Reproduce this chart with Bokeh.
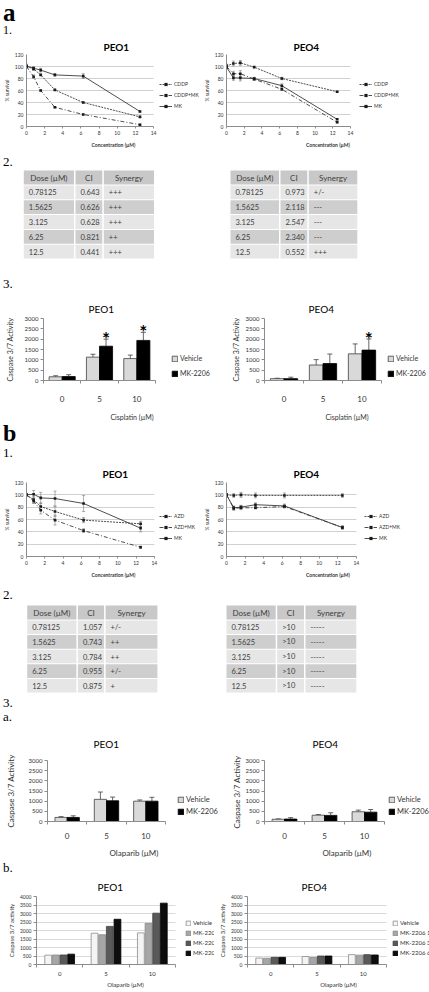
from bokeh.plotting import figure
from bokeh.models import (Range1d, FixedTicker, Legend, LegendItem, Whisker, TeeHead,
                          ColumnDataSource, Div, BoxAnnotation)
from bokeh.layouts import column, row
from bokeh.embed import file_html
from bokeh.resources import INLINE
from bokeh.core.properties import value

SANS = "Lato"
SERIF = "Liberation Serif"

# ------------------------------------------------------------------ data
conc = [0, 0.78125, 1.5625, 3.125, 6.25, 12.5]
conc_ticks = [0, 2, 4, 6, 8, 10, 12, 14]
surv_ticks = [0, 20, 40, 60, 80, 100, 120]

a1_names = ["CDDP", "CDDP+MK", "MK"]
a1_peo1_cddp = [100, 96, 86, 61, 40, 16]
a1_peo1_cddp_mk = [100, 83, 60, 32, 20, 3]
a1_peo1_mk = [101, 97, 94, 86, 84, 25]
a1_peo1_cddp_err = [2, 2, 1, 1, 1, 1]
a1_peo1_cddp_mk_err = [2, 3, 1, 1, 1, 1]
a1_peo1_mk_err = [3, 3, 3, 2, 4, 1]
a1_peo4_cddp = [101, 105, 106, 99, 80, 58]
a1_peo4_cddp_mk = [100, 88, 88, 79, 62, 7]
a1_peo4_mk = [99, 81, 81, 80, 68, 12]
a1_peo4_cddp_err = [3, 4, 4, 1, 2, 1]
a1_peo4_cddp_mk_err = [3, 4, 5, 2, 2, 1]
a1_peo4_mk_err = [3, 4, 5, 2, 3, 1]

b1_names = ["AZD", "AZD+MK", "MK"]
b1_peo1_azd = [100, 92, 81, 73, 59, 53]
b1_peo1_azd_mk = [100, 90, 75, 59, 42, 15]
b1_peo1_mk = [100, 101, 95, 94, 86, 46]
b1_peo1_azd_err = [1, 5, 6, 8, 4, 4]
b1_peo1_azd_mk_err = [1, 4, 6, 8, 3, 2]
b1_peo1_mk_err = [1, 6, 9, 12, 13, 6]
b1_peo4_azd = [100, 99, 100, 99, 99, 99]
b1_peo4_azd_mk = [100, 78, 79, 79, 81, 47]
b1_peo4_mk = [100, 79, 80, 84, 82, 47]
b1_peo4_azd_err = [1, 3, 4, 4, 4, 3]
b1_peo4_azd_mk_err = [1, 3, 3, 2, 2, 2]
b1_peo4_mk_err = [1, 3, 3, 3, 3, 3]

table_head = ["Dose (µM)", "CI", "Synergy"]
table_doses = ["0.78125", "1.5625", "3.125", "6.25", "12.5"]
a2_peo1_ci = ["0.643", "0.626", "0.628", "0.821", "0.441"]
a2_peo1_syn = ["+++", "+++", "+++", "++", "+++"]
a2_peo4_ci = ["0.973", "2.118", "2.547", "2.340", "0.552"]
a2_peo4_syn = ["+/-", "---", "---", "---", "+++"]
b2_peo1_ci = ["1.057", "0.743", "0.784", "0.955", "0.875"]
b2_peo1_syn = ["+/-", "++", "++", "+/-", "+"]
b2_peo4_ci = [">10", ">10", ">10", ">10", ">10"]
b2_peo4_syn = ["-----", "-----", "-----", "-----", "-----"]

casp_doses = ["0", "5", "10"]
casp_ticks_3000 = [0, 500, 1000, 1500, 2000, 2500, 3000]
casp_ticks_4000 = [0, 500, 1000, 1500, 2000, 2500, 3000, 3500, 4000]
casp2_names = ["Vehicle", "MK-2206"]

a3_peo1_veh = [180, 1130, 1060]
a3_peo1_veh_err = [50, 140, 170]
a3_peo1_mk = [190, 1660, 1940]
a3_peo1_mk_err = [90, 340, 390]
a3_peo1_star = [False, True, True]
a3_peo4_veh = [90, 750, 1290]
a3_peo4_veh_err = [20, 260, 480]
a3_peo4_mk = [90, 820, 1470]
a3_peo4_mk_err = [70, 460, 540]
a3_peo4_star = [False, False, True]

b3a_peo1_veh = [200, 1090, 1000]
b3a_peo1_veh_err = [40, 360, 60]
b3a_peo1_mk = [200, 1020, 1000]
b3a_peo1_mk_err = [80, 180, 190]
b3a_peo4_veh = [110, 310, 480]
b3a_peo4_veh_err = [20, 30, 80]
b3a_peo4_mk = [120, 300, 460]
b3a_peo4_mk_err = [70, 130, 130]
no_star = [False, False, False]

b3b_names = ["Vehicle", "MK-2206 1", "MK-2206 3", "MK-2206 6"]
b3b_peo1_veh = [550, 1840, 1860]
b3b_peo1_mk1 = [560, 1750, 2420]
b3b_peo1_mk3 = [560, 2240, 3020]
b3b_peo1_mk6 = [610, 2660, 3610]
b3b_peo4_veh = [380, 470, 580]
b3b_peo4_mk1 = [370, 420, 550]
b3b_peo4_mk3 = [420, 500, 580]
b3b_peo4_mk6 = [420, 500, 560]

AXIS = "#8c8c8c"
TXT = "#333333"


# ------------------------------------------------------------------ helpers
def base_fig(W, H, L, T, B, xr, yr):
    # the frame runs to the right edge; the legend sits in the frame's blank right part
    p = figure(width=W, height=H, x_range=xr, y_range=yr, output_backend="svg",
               toolbar_location=None, min_border_left=L, min_border_right=0,
               min_border_top=T, min_border_bottom=B)
    p.outline_line_color = None
    p.background_fill_color = "white"
    p.border_fill_color = "white"
    p.axis.minor_tick_line_color = None
    p.axis.axis_line_color = AXIS
    p.axis.major_tick_line_color = AXIS
    p.axis.major_label_text_font = SANS
    p.axis.axis_label_text_font = SANS
    p.axis.major_label_text_color = TXT
    p.axis.axis_label_text_color = TXT
    p.axis.axis_label_text_font_style = "normal"
    p.title.text_font = SANS
    p.title.text_color = "black"
    p.title.align = "left"
    return p


def line_chart(title, names, vals, errs, W, H, L, T, B, plot_w, title_off, title_so, leg_xy):
    xmax = conc_ticks[-1] * (W - L) / plot_w
    p = base_fig(W, H, L, T, B, Range1d(0, xmax), Range1d(0, surv_ticks[-1]))
    p.title.text = title
    p.title.text_font_size = "10px"
    p.title.text_font_style = "bold"
    p.title.offset = title_off
    p.title.standoff = title_so
    p.xaxis.ticker = FixedTicker(ticks=conc_ticks)
    p.xaxis.bounds = (conc_ticks[0], conc_ticks[-1])
    p.yaxis.ticker = FixedTicker(ticks=surv_ticks)
    p.axis.major_label_text_font_size = "5px"
    p.yaxis.major_tick_line_color = None
    p.yaxis.major_tick_out = 0
    p.yaxis.major_label_standoff = 3
    p.xaxis.major_tick_out = 2
    p.xaxis.major_tick_in = 0
    p.xaxis.major_label_standoff = 2
    p.xgrid.visible = False
    p.ygrid.grid_line_color = "#c4c4c4"
    p.ygrid.grid_line_width = 0.8
    p.add_layout(BoxAnnotation(left=conc_ticks[-1], fill_color="white", fill_alpha=1,
                               line_alpha=0, level="underlay"))
    p.yaxis.axis_label = "% survival"
    p.yaxis.axis_label_text_font_size = "5px"
    p.yaxis.axis_label_standoff = 2
    p.xaxis.axis_label = "Concentration (µM)"
    p.xaxis.axis_label_text_font_size = "5px"
    p.xaxis.axis_label_text_font_style = "bold"
    p.xaxis.axis_label_standoff = 4
    dashes = ["2 1", "4 2 1 2", "solid"]
    items = []
    for name, v, e, d in zip(names, vals, errs, dashes):
        src = ColumnDataSource(dict(x=conc, y=v,
                                    lo=[a - b for a, b in zip(v, e)],
                                    hi=[a + b for a, b in zip(v, e)]))
        p.add_layout(Whisker(source=src, base="x", upper="hi", lower="lo",
                             line_color="#777777", line_width=0.6,
                             upper_head=TeeHead(size=3, line_color="#777777", line_width=0.6),
                             lower_head=TeeHead(size=3, line_color="#777777", line_width=0.6)))
        lr = p.line("x", "y", source=src, line_color="#3a3a3a", line_width=0.9, line_dash=d)
        sr = p.scatter("x", "y", source=src, marker="square", size=2.6,
                       fill_color="#1a1a1a", line_color=None)
        items.append(LegendItem(label=name, renderers=[lr, sr]))
    leg = Legend(items=items, location=leg_xy, label_text_font=SANS,
                 label_text_font_size="5px", label_text_color=TXT,
                 glyph_width=13, glyph_height=8, label_height=8, label_standoff=2,
                 spacing=3, padding=0, margin=0, border_line_color=None,
                 background_fill_alpha=0)
    p.add_layout(leg, "center")
    return p


def bar_chart(title, names, vals, errs, stars, fills, outlines, c):
    n = len(casp_doses)
    pos = list(range(1, n + 1))
    xmax = 0.5 + n * (c["W"] - c["L"]) / c["plot_w"]
    p = base_fig(c["W"], c["H"], c["L"], c["T"], c["B"],
                 Range1d(0.5, xmax), Range1d(0, c["yticks"][-1]))
    p.title.text = title
    p.title.text_font_size = c["title_size"]
    p.title.text_font_style = "normal"
    p.title.standoff = c["title_standoff"]
    p.title.offset = c["title_off"]
    p.xaxis.ticker = FixedTicker(ticks=pos, minor_ticks=[q - 0.5 for q in pos] + [pos[-1] + 0.5])
    p.xaxis.bounds = (0.5, n + 0.5)
    p.xaxis.major_label_overrides = {q: lab for q, lab in zip(pos, casp_doses)}
    p.xaxis.major_tick_out = 0
    p.xaxis.major_tick_in = 0
    p.xaxis.minor_tick_out = 3
    p.xaxis.minor_tick_in = 0
    p.xaxis.minor_tick_line_color = AXIS
    p.xaxis.major_label_text_font_size = c["xtick_size"]
    p.xaxis.major_label_standoff = c["xtick_standoff"]
    p.xaxis.axis_label = c["xlabel"]
    p.xaxis.axis_label_text_font_size = c["xlabel_size"]
    p.xaxis.axis_label_standoff = c["xlabel_standoff"]
    p.yaxis.ticker = FixedTicker(ticks=c["yticks"])
    p.yaxis.major_tick_out = 3
    p.yaxis.major_tick_in = 0
    p.yaxis.major_label_standoff = 2
    p.yaxis.major_label_text_font_size = c["ytick_size"]
    p.yaxis.axis_label = c["ylabel"]
    p.yaxis.axis_label_text_font_size = c["ylabel_size"]
    p.yaxis.axis_label_standoff = c["ylabel_standoff"]
    p.xgrid.visible = False
    if c["grid"]:
        p.ygrid.grid_line_color = "#d0d0d0"
        p.ygrid.grid_line_width = 0.8
        p.add_layout(BoxAnnotation(left=n + 0.5, fill_color="white", fill_alpha=1,
                                   line_alpha=0, level="underlay"))
    else:
        p.ygrid.visible = False
    k = len(vals)
    items = []
    for j in range(k):
        xs = [q + (j - (k - 1) / 2) * c["step"] for q in pos]
        d = dict(x=xs, top=vals[j])
        if errs is not None:
            d["hi"] = [a + b for a, b in zip(vals[j], errs[j])]
        src = ColumnDataSource(d)
        r = p.vbar(x="x", top="top", width=c["bw"], source=src, fill_color=fills[j],
                   line_color=outlines[j], line_width=0.8)
        items.append(LegendItem(label=names[j], renderers=[r]))
        if errs is not None:
            p.add_layout(Whisker(source=src, base="x", lower="top", upper="hi",
                                 line_color="#404040", line_width=0.8,
                                 upper_head=TeeHead(size=5, line_color="#404040", line_width=0.8),
                                 lower_head=None))
    if stars is not None and any(stars):
        j = k - 1
        sx = [pos[i] + (j - (k - 1) / 2) * c["step"] for i in range(n) if stars[i]]
        sy = [vals[j][i] + errs[j][i] + c["star_gap"] for i in range(n) if stars[i]]
        p.text(x=sx, y=sy, text=["*"] * len(sx), text_align="center", text_baseline="middle",
               text_font=value(SANS), text_font_size="19px", text_font_style="bold",
               text_color="black")
    leg = Legend(items=items, location=c["leg_xy"], label_text_font=SANS,
                 label_text_font_size=c["leg_size"], label_text_color=TXT,
                 glyph_width=c["glyph"], glyph_height=c["glyph"], label_height=c["label_h"],
                 label_standoff=2, spacing=c["spacing"], padding=0, margin=0,
                 border_line_color=None, background_fill_alpha=0)
    p.add_layout(leg, "center")
    return p


def table_fig(W, H, x0, top, col_w, head_h, row_h, doses, cis, syns):
    p = figure(width=W, height=H, x_range=Range1d(0, W), y_range=Range1d(H, 0),
               output_backend="svg", toolbar_location=None, min_border=0,
               x_axis_type=None, y_axis_type=None)
    p.grid.visible = False
    p.outline_line_color = None
    p.background_fill_color = "white"
    p.border_fill_color = "white"
    lines = [table_head] + [list(r) for r in zip(doses, cis, syns)]
    lefts = [x0 + sum(col_w[:j]) for j in range(3)]
    ql, qr, qt, qb, qc = [], [], [], [], []
    hx, hy, ht = [], [], []
    dx, dy, dt = [], [], []
    for i, r in enumerate(lines):
        y0 = top if i == 0 else top + head_h + (i - 1) * row_h
        h = head_h if i == 0 else row_h
        col = "#c8c8c8" if i == 0 else ("#e6e6e6" if i % 2 == 1 else "#cecece")
        for j in range(3):
            ql.append(lefts[j])
            qr.append(lefts[j] + col_w[j] - 1.5)
            qt.append(y0)
            qb.append(y0 + h - 1)
            qc.append(col)
            if i == 0:
                hx.append(lefts[j] + (col_w[j] - 1.5) / 2)
                hy.append(y0 + (h - 1) / 2)
                ht.append(r[j])
            else:
                dx.append(lefts[j] + 5)
                dy.append(y0 + (h - 1) / 2)
                dt.append(r[j])
    p.quad(left=ql, right=qr, top=qt, bottom=qb, fill_color=qc, line_color=None)
    p.text(x=hx, y=hy, text=ht, text_align="center", text_baseline="middle",
           text_font=value(SANS), text_font_size="8px", text_color="#404040")
    p.text(x=dx, y=dy, text=dt, text_align="left", text_baseline="middle",
           text_font=value(SANS), text_font_size="7.5px", text_color="#404040")
    return p


def label_div(W, H, spans):
    html = "".join(
        f'<span style="position:absolute;left:{l}px;top:{t}px;font-family:\'{SERIF}\';'
        f'font-size:{s}px;font-weight:{"bold" if b else "normal"};line-height:1;color:#000;">{txt}</span>'
        for txt, l, t, s, b in spans)
    return Div(text=f'<div style="position:relative;width:{W}px;height:{H}px;">{html}</div>',
               width=W, height=H, margin=(0, 0, 0, 0), styles={"overflow": "visible"})


# ------------------------------------------------------------------ panels
# a.1
a1_l = line_chart("PEO1", a1_names, [a1_peo1_cddp, a1_peo1_cddp_mk, a1_peo1_mk],
                  [a1_peo1_cddp_err, a1_peo1_cddp_mk_err, a1_peo1_mk_err],
                  200, 114, 22, 16, 23, 130, 77, 4, (133, 16))
a1_r = line_chart("PEO4", a1_names, [a1_peo4_cddp, a1_peo4_cddp_mk, a1_peo4_mk],
                  [a1_peo4_cddp_err, a1_peo4_cddp_mk_err, a1_peo4_mk_err],
                  229, 114, 21, 16, 23, 127, 67, 4, (133, 16))

# a.2
a2_l = table_fig(214, 94, 23.3, 2, [51.7, 28.3, 51.7], 15, 14.8, table_doses, a2_peo1_ci, a2_peo1_syn)
a2_r = table_fig(215, 94, 16, 2, [50, 28.3, 50], 15, 14.8, table_doses, a2_peo4_ci, a2_peo4_syn)

# a.3
a3_cfg = dict(H=129, T=20, B=45, yticks=casp_ticks_3000, title_size="10px",
              title_standoff=8, xtick_size="8px", xtick_standoff=12, xlabel="Cisplatin (µM)",
              xlabel_size="7px", xlabel_standoff=8, ytick_size="6px",
              ylabel="Caspase 3/7 Activity", ylabel_size="7px",
              grid=False, step=0.35, bw=0.35, star_gap=40, leg_size="7px", glyph=7,
              label_h=10, spacing=5)
a3_l = bar_chart("PEO1", casp2_names, [a3_peo1_veh, a3_peo1_mk], [a3_peo1_veh_err, a3_peo1_mk_err],
                 a3_peo1_star, ["#d9d9d9", "#000000"], ["#404040", "#000000"],
                 dict(a3_cfg, W=220, L=43, plot_w=112, title_off=45, ylabel_standoff=8,
                      leg_xy=(128, 2)))
a3_r = bar_chart("PEO4", casp2_names, [a3_peo4_veh, a3_peo4_mk], [a3_peo4_veh_err, a3_peo4_mk_err],
                 a3_peo4_star, ["#d9d9d9", "#000000"], ["#404040", "#000000"],
                 dict(a3_cfg, W=209, L=44, plot_w=117, title_off=44, ylabel_standoff=3,
                      leg_xy=(123, 2)))

# b.1
b1_l = line_chart("PEO1", b1_names, [b1_peo1_azd, b1_peo1_azd_mk, b1_peo1_mk],
                  [b1_peo1_azd_err, b1_peo1_azd_mk_err, b1_peo1_mk_err],
                  200, 118, 23, 20, 24, 130, 76, 6, (133, 14))
b1_r = line_chart("PEO4", b1_names, [b1_peo4_azd, b1_peo4_azd_mk, b1_peo4_mk],
                  [b1_peo4_azd_err, b1_peo4_azd_mk_err, b1_peo4_mk_err],
                  229, 118, 21, 20, 24, 133, 67, 6, (138, 14))

# b.2
b2_l = table_fig(214, 90, 26.7, 2, [50.7, 27.7, 53.3], 15, 14.6, table_doses, b2_peo1_ci, b2_peo1_syn)
b2_r = table_fig(215, 90, 12, 2, [50.7, 28.3, 52.3], 15, 14.6, table_doses, b2_peo4_ci, b2_peo4_syn)

# b.3.a
b3a_cfg = dict(H=136, T=34, B=38, yticks=casp_ticks_3000, title_size="10px",
               title_standoff=22, xtick_size="8px", xtick_standoff=8, xlabel="Olaparib (µM)",
               xlabel_size="8px", xlabel_standoff=6, ytick_size="6px",
               ylabel_size="8px", grid=False, step=0.31, bw=0.31,
               star_gap=40, leg_size="7.5px", glyph=7, label_h=10, spacing=2)
b3a_l = bar_chart("PEO1", casp2_names, [b3a_peo1_veh, b3a_peo1_mk], [b3a_peo1_veh_err, b3a_peo1_mk_err],
                  no_star, ["#d9d9d9", "#000000"], ["#404040", "#000000"],
                  dict(b3a_cfg, W=220, L=47, plot_w=118, title_off=46, ylabel_standoff=10,
                       leg_xy=(130, 5), ylabel="Caspase 3/7 Activity"))
b3a_r = bar_chart("PEO4", casp2_names, [b3a_peo4_veh, b3a_peo4_mk], [b3a_peo4_veh_err, b3a_peo4_mk_err],
                  no_star, ["#d9d9d9", "#000000"], ["#404040", "#000000"],
                  dict(b3a_cfg, W=209, L=44, plot_w=120, title_off=48, ylabel_standoff=1,
                       leg_xy=(124, 5), ylabel="Caspase  3/7 Activity"))

# b.3.b
b3b_cfg = dict(H=116, T=20, B=20, yticks=casp_ticks_4000, title_size="10px",
               title_standoff=8, xtick_size="6px", xtick_standoff=4, xlabel="Olaparib (µM)",
               xlabel_size="6px", xlabel_standoff=2, ytick_size="5px",
               ylabel="Caspase 3/7 activity", ylabel_size="6px", ylabel_standoff=2,
               grid=True, step=0.165, bw=0.147, star_gap=0, leg_size="6px", glyph=6,
               label_h=7, spacing=3)
b3b_fills = ["#f4f4f4", "#a6a6a6", "#595959", "#0d0d0d"]
b3b_lines = ["#8c8c8c", "#8c8c8c", "#404040", "#000000"]
b3b_l = bar_chart("PEO1", b3b_names, [b3b_peo1_veh, b3b_peo1_mk1, b3b_peo1_mk3, b3b_peo1_mk6], None,
                  None, b3b_fills, b3b_lines,
                  dict(b3b_cfg, W=214, L=36, plot_w=139, title_off=61, leg_xy=(149, 8)))
b3b_r = bar_chart("PEO4", b3b_names, [b3b_peo4_veh, b3b_peo4_mk1, b3b_peo4_mk3, b3b_peo4_mk6], None,
                  None, b3b_fills, b3b_lines,
                  dict(b3b_cfg, W=215, L=33, plot_w=139, title_off=54, leg_xy=(145, 8)))

# ------------------------------------------------------------------ layout
page = column(
    label_div(429, 36, [("a", 3, 0, 25, True), ("1.", 3, 24, 12, False)]),
    row(a1_l, a1_r),
    label_div(429, 18, [("2.", 3, 5, 13, False)]),
    row(a2_l, a2_r),
    label_div(429, 34, [("3.", 3, 15, 13, False)]),
    row(a3_l, a3_r),
    label_div(429, 37, [("b", 3, -4, 24, True), ("1.", 3, 21, 13, False)]),
    row(b1_l, b1_r),
    label_div(429, 23, [("2.", 3, 8, 13, False)]),
    row(b2_l, b2_r),
    label_div(429, 31, [("3.", 3, 3, 13, False), ("a.", 3, 17, 13, False)]),
    row(b3a_l, b3a_r),
    label_div(429, 14, [("b.", 3, 1, 13, False)]),
    row(b3b_l, b3b_r),
    spacing=0,
)

with open("out.html", "w") as f:
    f.write(file_html(page, INLINE))
